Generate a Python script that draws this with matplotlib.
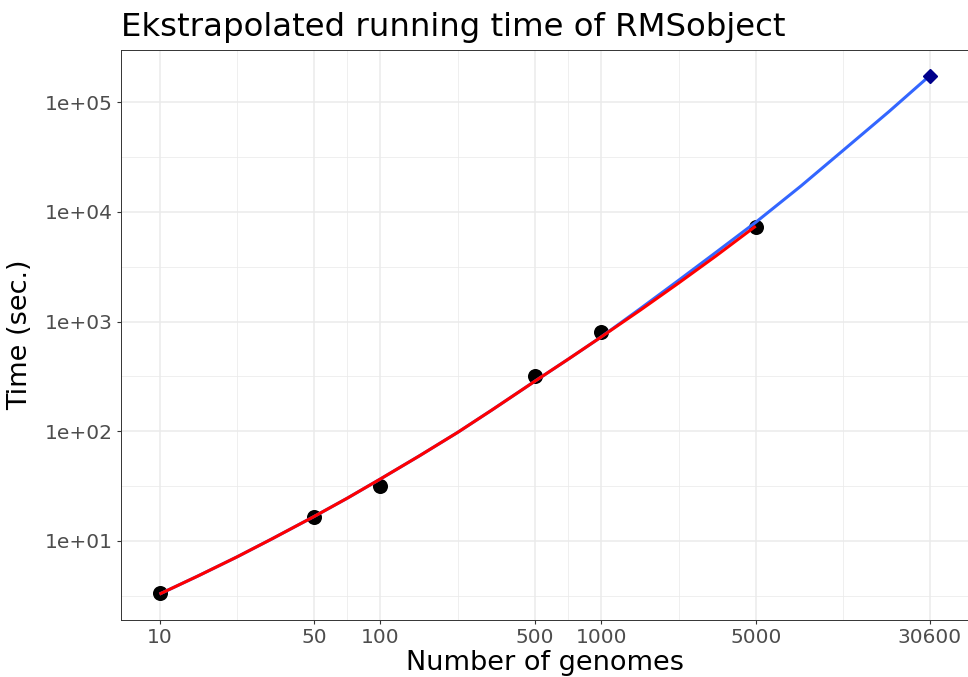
import numpy as np
import matplotlib
matplotlib.use("Agg")
import matplotlib.pyplot as plt
from matplotlib.ticker import FixedLocator, NullFormatter

# measured running times
genomes = [10, 50, 100, 500, 1000, 5000]
times = [3.33, 16.3, 31.7, 318, 794, 7310]

# extrapolated point
pred_genomes = [30600]
pred_time = [174000]

# fitted curve (red)
fit_x = [10, 15, 22.4, 32, 50, 70.7, 100, 150, 224, 320, 500, 707, 1000,
         1500, 2236, 3300, 5000]
fit_y = [3.26, 4.79, 7.11, 10.3, 16.6, 24.4, 36.6, 59.4, 97.5, 156, 285, 452, 724,
         1268, 2239, 3954, 7413]

# extrapolation curve (blue)
ext_x = [10, 15, 22.4, 32, 50, 70.7, 100, 150, 224, 320, 500, 707, 1000,
         1500, 2236, 3300, 5000, 8000, 12369, 20000, 30600]
ext_y = [3.26, 4.79, 7.11, 10.3, 16.6, 24.4, 36.6, 59.4, 97.5, 156, 285, 452, 724,
         1309, 2371, 4266, 8035, 17180, 36060, 81850, 174000]

x_breaks = [10, 50, 100, 500, 1000, 5000, 30600]
x_labels = ["10", "50", "100", "500", "1000", "5000", "30600"]
y_breaks = [1e1, 1e2, 1e3, 1e4, 1e5]
y_labels = ["1e+01", "1e+02", "1e+03", "1e+04", "1e+05"]

plt.rcParams["font.family"] = ["DejaVu Sans"]

fig = plt.figure(figsize=(9.68, 6.77), dpi=100)
ax = fig.add_axes([121 / 968, 1 - 620 / 677, 1 - 121 / 968, (620 - 50) / 677])

grid_col = "#EBEBEB"
ax.set_xscale("log")
ax.set_yscale("log")

ax.scatter(genomes, times, s=15 ** 2 * 0.52, color="black", zorder=2, linewidths=0)
ax.plot(ext_x, ext_y, color="#3366FF", lw=2.2, zorder=3, solid_capstyle="butt")
ax.plot(fit_x, fit_y, color="#FF0000", lw=2.2, zorder=4, solid_capstyle="butt")
ax.plot(pred_genomes, pred_time, marker="D", ms=6.8, color="#00008B", ls="none", zorder=5)

# ggplot-like 5% expansion in log space
lx = np.log10([min(ext_x), max(ext_x)])
dx = (lx[1] - lx[0]) * 0.05
ax.set_xlim(10 ** (lx[0] - dx), 10 ** (lx[1] + dx))
ly = np.log10([min(min(fit_y), min(times)), max(max(ext_y), max(pred_time))])
dy = (ly[1] - ly[0]) * 0.05
ax.set_ylim(10 ** (ly[0] - dy), 10 ** (ly[1] + dy))

ax.xaxis.set_major_locator(FixedLocator(x_breaks))
ax.set_xticklabels(x_labels)
lb = np.log10(x_breaks)
ax.xaxis.set_minor_locator(FixedLocator(10 ** ((lb[:-1] + lb[1:]) / 2)))
ax.xaxis.set_minor_formatter(NullFormatter())

ax.yaxis.set_major_locator(FixedLocator(y_breaks))
ax.set_yticklabels(y_labels)
ax.yaxis.set_minor_locator(FixedLocator(10 ** (np.arange(0, 6) + 0.5)))
ax.yaxis.set_minor_formatter(NullFormatter())

ax.grid(which="major", color=grid_col, lw=1.1, zorder=0)
ax.grid(which="minor", color=grid_col, lw=0.55, zorder=0)
ax.set_axisbelow(True)

ax.tick_params(which="major", length=3, width=0.8, color="#333333",
               labelsize=14.5, labelcolor="#4D4D4D", pad=3)
ax.tick_params(which="minor", length=0)

for side in ["left", "top", "bottom"]:
    ax.spines[side].set_color("#333333")
    ax.spines[side].set_linewidth(0.7)
ax.spines["right"].set_visible(False)

ax.set_xlabel("Number of genomes", fontsize=19.5, labelpad=2)
ax.set_ylabel("Time (sec.)", fontsize=19.5, labelpad=8)
ax.set_title("Ekstrapolated running time of RMSobject", loc="left", fontsize=23.3, pad=10)

fig.savefig("out.png", dpi=100)
